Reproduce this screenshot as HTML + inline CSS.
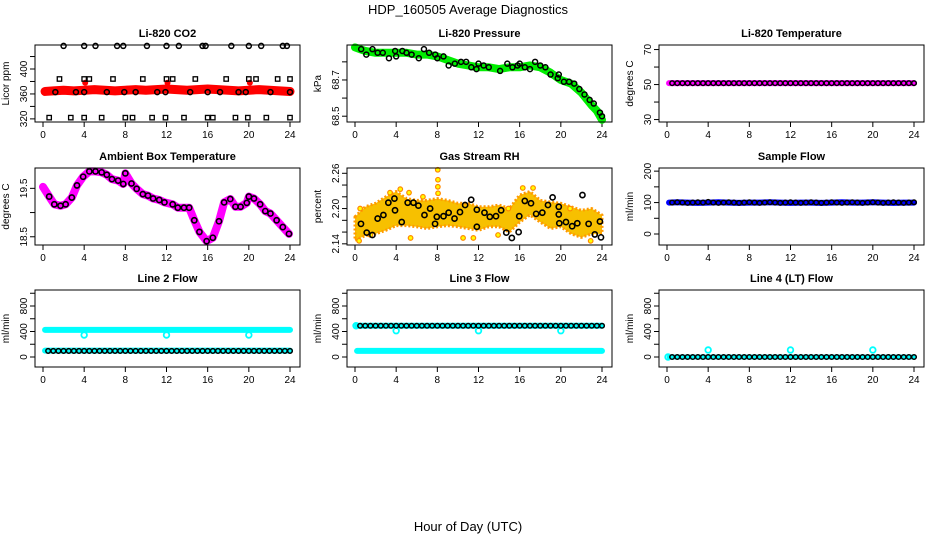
<!DOCTYPE html>
<html><head><meta charset="utf-8">
<style>
html,body{margin:0;padding:0;background:#fff;}
svg{display:block;font-family:"Liberation Sans",sans-serif;}
</style></head>
<body>
<svg id="chart" width="936" height="540" viewBox="0 0 936 540" xmlns="http://www.w3.org/2000/svg">
<rect x="0" y="0" width="936" height="540" fill="#fff"/>
<text x="468" y="14" font-size="13" text-anchor="middle">HDP_160505  Average Diagnostics</text>
<text x="468" y="531" font-size="13" text-anchor="middle">Hour of Day (UTC)</text>
</svg>
<script>
// ---- shared categories ----
const xTicks = [0,4,8,12,16,20,24];
const H48 = [0.5,1,1.5,2,2.5,3,3.5,4,4.5,5,5.5,6,6.5,7,7.5,8,8.5,9,9.5,10,10.5,11,11.5,12,12.5,13,13.5,14,14.5,15,15.5,16,16.5,17,17.5,18,18.5,19,19.5,20,20.5,21,21.5,22,22.5,23,23.5,24];
const H25 = [0,1,2,3,4,5,6,7,8,9,10,11,12,13,14,15,16,17,18,19,20,21,22,23,24];
const bandHours = [0.2,1,2,3,4,5,6,7,8,9,10,11,12,13,14,15,16,17,18,19,20,21,22,23,24];

// ---- Li-820 CO2 ----
const co2Band = [364,365,366,365,366,367,366,365,366,367,366,367,368,367,366,367,368,367,366,365,366,367,366,365,364];
const co2HighH = [2,4,5.1,7.2,7.8,10.1,12,13.2,15.5,15.8,18.3,20,21.2,23.3,23.7];
const co2HighV = [437,437,437,437,437,437,437,437,437,437,437,437,437,437,437];
const co2MidH = [1.2,3.2,4,6.2,7.9,9,11.1,11.9,14.3,16,17.2,19,19.7,22.1,24];
const co2MidV = [363,363,363,363,363,363,363,363,363,363,363,363,363,363,363];
const co2SqH = [1.6,4,4.5,6.8,9.7,12,12.6,14.8,17.8,20,20.7,22.8,24];
const co2SqV = [384,384,384,384,384,384,384,384,384,384,384,384,384];
const co2LowH = [0.6,2.7,4,5.7,8,8.7,10.6,11.9,13.7,16,16.5,18.7,19.9,21.7,24];
const co2LowV = [322,322,322,322,322,322,322,322,322,322,322,322,322,322,322];
const co2RedH = [4.1,12.1,20.1];
const co2RedV = [378,378,378];

// ---- Li-820 Pressure ----
const presH = [0,0.5,1,2,3,4,5,6,7,8,9,10,11,12,13,14,15,16,17,18,19,20,21,22,23,23.5,24];
const presV = [68.88,68.87,68.86,68.85,68.85,68.85,68.85,68.84,68.84,68.83,68.81,68.79,68.78,68.77,68.77,68.76,68.77,68.77,68.78,68.77,68.74,68.70,68.68,68.63,68.56,68.53,68.48];
const presCH = [0.6,1.1,1.7,2.2,2.7,3.3,3.9,4,4.6,5,5.5,6.2,6.7,7.2,7.8,8,8.6,9.1,9.7,10.3,10.8,11.3,11.8,12,12.5,13,14.1,14.8,15.3,15.8,16,16.5,17,17.5,18,18.5,19,19.7,19.8,20.3,20.8,21.3,21.8,22.3,22.8,23.2,23.8,24];
const presCV = [68.87,68.84,68.87,68.85,68.85,68.82,68.86,68.83,68.86,68.85,68.84,68.82,68.87,68.85,68.84,68.82,68.83,68.78,68.79,68.80,68.80,68.77,68.76,68.79,68.78,68.77,68.75,68.79,68.77,68.78,68.79,68.77,68.76,68.80,68.78,68.77,68.73,68.71,68.73,68.69,68.69,68.68,68.65,68.62,68.59,68.57,68.52,68.50];

// ---- Li-820 Temperature ----
const tempBand = [50.8,50.8,50.8,50.8,50.8,50.8,50.8,50.8,50.8,50.8,50.8,50.8,50.8,50.8,50.8,50.8,50.8,50.8,50.8,50.8,50.8,50.8,50.8,50.8,50.8];
const tempV = [50.8,50.8,50.8,50.8,50.8,50.8,50.8,50.8,50.8,50.8,50.8,50.8,50.8,50.8,50.8,50.8,50.8,50.8,50.8,50.8,50.8,50.8,50.8,50.8,50.8,50.8,50.8,50.8,50.8,50.8,50.8,50.8,50.8,50.8,50.8,50.8,50.8,50.8,50.8,50.8,50.8,50.8,50.8,50.8,50.8,50.8,50.8,50.8];

// ---- Ambient Box Temperature ----
const ambH = [0,0.6,1.1,1.7,2.2,2.8,3.3,3.9,4.5,5.1,5.7,6.2,6.7,7.3,7.8,8.0,8.6,9.1,9.7,10.2,10.7,11.3,11.8,12.6,13.1,13.7,14.2,14.7,15.2,15.9,16.5,17.1,17.6,18.2,18.7,19.2,19.8,20.0,20.5,21.1,21.6,22.1,22.7,23.3,23.9];
const ambV = [19.53,19.33,19.17,19.14,19.17,19.31,19.56,19.74,19.85,19.85,19.83,19.78,19.69,19.66,19.59,19.81,19.6,19.49,19.38,19.35,19.29,19.26,19.21,19.17,19.1,19.1,19.1,18.84,18.6,18.41,18.48,18.82,19.21,19.28,19.12,19.12,19.2,19.33,19.29,19.17,19.03,18.98,18.84,18.7,18.56];

// ---- Gas Stream RH ----
const rhUpper = [2.186,2.203,2.209,2.22,2.229,2.217,2.214,2.214,2.217,2.214,2.209,2.209,2.203,2.203,2.206,2.2,2.223,2.229,2.214,2.211,2.209,2.203,2.197,2.2,2.189];
const rhLower = [2.146,2.154,2.157,2.163,2.171,2.171,2.169,2.166,2.169,2.171,2.169,2.166,2.163,2.169,2.169,2.16,2.177,2.189,2.177,2.166,2.169,2.157,2.151,2.157,2.157];
const rhOutH = [8.04,8.06,8.05,8.07,3.4,4.4,5.25,0.4,1.5,5.4,10.5,11.5,14.9,16.3,17.3,20.9,22.9,0.5,6.6,13.9];
const rhOutV = [2.266,2.249,2.237,2.226,2.227,2.233,2.227,2.145,2.155,2.15,2.15,2.15,2.2,2.235,2.235,2.2,2.145,2.2,2.22,2.155];
const rhCH = [0.58,1.14,1.69,2.2,2.76,3.24,3.83,3.89,4.54,5.12,5.68,6.16,6.75,7.3,7.78,7.95,8.6,9.1,9.67,10.2,10.7,11.29,11.84,11.84,12.58,13.1,13.7,14.2,14.7,15.24,15.9,15.96,16.5,17.1,17.6,18.2,18.75,19.2,19.8,19.8,19.85,20.5,21.1,21.6,22.1,22.7,23.3,23.8,23.9];
const rhCV = [2.174,2.159,2.155,2.183,2.189,2.21,2.217,2.197,2.177,2.21,2.21,2.205,2.189,2.2,2.174,2.186,2.187,2.193,2.183,2.194,2.206,2.215,2.198,2.169,2.193,2.186,2.187,2.197,2.159,2.15,2.16,2.187,2.213,2.209,2.191,2.193,2.206,2.219,2.203,2.19,2.175,2.177,2.17,2.175,2.223,2.174,2.156,2.178,2.151];

// ---- Sample Flow ----
const sfBand = [100,101,100,99,100,101,100,99,100,100,101,100,99,100,100,99,100,101,100,100,101,100,99,100,100];
const sfV = [100,101,100,99,100,101,100,102,100,99,100,101,100,99,100,101,100,99,100,101,100,99,100,101,100,99,100,101,100,99,100,101,100,99,100,101,100,99,100,101,100,99,100,101,100,99,100,101];

// ---- Line 2 Flow ----
const l2Upper = [425,425,425,425,425,425,425,425,425,425,425,425,425,425,425,425,425,425,425,425,425,425,425,425,425];
const l2Lower = [100,100,100,100,100,100,100,100,100,100,100,100,100,100,100,100,100,100,100,100,100,100,100,100,100];
const l2OutH = [4,12,20];
const l2OutV = [345,345,345];
const l2V = [95,95,95,95,95,95,95,95,95,95,95,95,95,95,95,95,95,95,95,95,95,95,95,95,95,95,95,95,95,95,95,95,95,95,95,95,95,95,95,95,95,95,95,95,95,95,95,95];

// ---- Line 3 Flow ----
const l3Upper = [490,490,490,490,490,490,490,490,490,490,490,490,490,490,490,490,490,490,490,490,490,490,490,490,490];
const l3Lower = [95,95,95,95,95,95,95,95,95,95,95,95,95,95,95,95,95,95,95,95,95,95,95,95,95];
const l3OutH = [0.1,4,12,20];
const l3OutV = [490,412,412,412];
const l3V = [490,490,490,490,490,490,490,490,490,490,490,490,490,490,490,490,490,490,490,490,490,490,490,490,490,490,490,490,490,490,490,490,490,490,490,490,490,490,490,490,490,490,490,490,490,490,490,490];

// ---- Line 4 Flow ----
const l4Band = [0,0,0,0,0,0,0,0,0,0,0,0,0,0,0,0,0,0,0,0,0,0,0,0,0];
const l4OutH = [0.1,4,12,20];
const l4OutV = [0,110,110,110];
const l4V = [0,0,0,0,0,0,0,0,0,0,0,0,0,0,0,0,0,0,0,0,0,0,0,0,0,0,0,0,0,0,0,0,0,0,0,0,0,0,0,0,0,0,0,0,0,0,0,0];

// ---- axis ticks ----
const co2Ticks=[320,340,360,380,400,420], co2Labels=["320","","360","","400",""];
const presTicks=[68.5,68.6,68.7,68.8], presLabels=["68.5","","68.7",""];
const tempTicks=[30,40,50,60,70], tempLabels=["30","","50","","70"];
const ambTicks=[18.5,19,19.5], ambLabels=["18.5","","19.5"];
const rhTicks=[2.14,2.16,2.18,2.20,2.22,2.24,2.26], rhLabels=["2.14","","","2.20","","","2.26"];
const sfTicks=[0,50,100,150,200], sfLabels=["0","","100","","200"];
const flTicks=[0,200,400,600,800,1000], flLabels=["0","","400","","800",""];

const NS="http://www.w3.org/2000/svg";
const svg=document.getElementById('chart');
function mk(tag,attrs,parent){const e=document.createElementNS(NS,tag);for(const k in attrs)e.setAttribute(k,attrs[k]);(parent||svg).appendChild(e);return e;}

function makePanel(col,row,title,ytitle,ymin,ymax,ticks,labels,name){
  const L=[35,347,659][col], T=[45,168,290][row], W=265, Hh=77;
  const g=mk('g',{});
  
  
  const p={g,L,T,W,Hh,
    X:h=>L+8+h*247/24,
    Y:v=>T+(ymax-v)/(ymax-ymin)*Hh};
  const t=mk('text',{x:L+W/2,y:T-8,'font-size':11,'font-weight':'bold','text-anchor':'middle'},g);
  t.textContent=title;
  
  
  const yt=mk('text',{x:0,y:0,'font-size':10,'text-anchor':'middle',transform:`translate(${L-26},${T+Hh/2}) rotate(-90)`},g);
  yt.textContent=ytitle;
  
  
  // y ticks
  ticks.forEach((v,i)=>{const y=p.Y(v);
    mk('line',{x1:L-5,x2:L,y1:y,y2:y,stroke:'#000','stroke-width':1},g);
    if(labels[i]){const lt=mk('text',{x:0,y:0,'font-size':10,'text-anchor':'middle',transform:`translate(${L-8},${y}) rotate(-90)`},g);lt.textContent=labels[i];
      
      }
  });
  xTicks.forEach(h=>{const x=p.X(h);
    mk('line',{x1:x,x2:x,y1:T+Hh,y2:T+Hh+5,stroke:'#000','stroke-width':1},g);
    const lt=mk('text',{x:x,y:T+Hh+16,'font-size':10,'text-anchor':'middle'},g);lt.textContent=String(h);
    
    
  });
  p.plot=mk('g',{},g);
  mk('rect',{x:L,y:T,width:W,height:Hh,fill:'none',stroke:'#000','stroke-width':1},g);
  return p;
}
function band(p,hs,vs,color,w,name){
  const pl=mk('polyline',{points:hs.map((h,i)=>p.X(h)+','+p.Y(vs[i])).join(' '),fill:'none',stroke:color,'stroke-width':w,'stroke-linejoin':'round','stroke-linecap':'round'},p.plot);
  
  
}
function area(p,hs,up,lo,name){
  const pts=hs.map((h,i)=>p.X(h)+','+p.Y(up[i])).concat(hs.slice().reverse().map((h,j)=>p.X(h)+','+p.Y(lo[hs.length-1-j])));
  const pg=mk('polygon',{points:pts.join(' '),fill:'#f7c000',stroke:'#ff9a00','stroke-width':3,'stroke-dasharray':'2 2','stroke-linejoin':'round'},p.plot);
  
  
}
function pts(p,hs,vs,stroke,fill,r,sw,name,sq){
  hs.forEach((h,i)=>{let c;
    if(sq) c=mk('rect',{x:p.X(h)-r,y:p.Y(vs[i])-r,width:2*r,height:2*r,fill:fill,stroke:stroke,'stroke-width':sw},p.plot);
    else c=mk('circle',{cx:p.X(h),cy:p.Y(vs[i]),r:r,fill:fill,stroke:stroke,'stroke-width':sw},p.plot);
    
    
  });
}

// Panel 1
let p=makePanel(0,0,'Li-820 CO2','Licor ppm',315,438.5,co2Ticks,co2Labels,'co2');
band(p,bandHours,co2Band,'#ff0000',9,'co2-band');
pts(p,co2RedH,co2RedV,'#ff0000','#ff0000',2.5,1,'co2-red-point');
pts(p,co2HighH,co2HighV,'#000','none',2.5,1.5,'co2-high-point');
pts(p,co2MidH,co2MidV,'#000','none',2.5,1.5,'co2-mid-point');
pts(p,co2SqH,co2SqV,'#000','none',2.2,1.3,'co2-square-point',true);
pts(p,co2LowH,co2LowV,'#000','none',2.2,1.3,'co2-low-point',true);

// Panel 2
p=makePanel(1,0,'Li-820 Pressure','kPa',68.468,68.893,presTicks,presLabels,'pressure');
band(p,presH,presV,'#00ee00',8,'pressure-band');
pts(p,presCH,presCV,'#000','none',2.5,1.5,'pressure-point');

// Panel 3
p=makePanel(2,0,'Li-820 Temperature','degrees C',28.6,72.6,tempTicks,tempLabels,'temperature');
band(p,bandHours,tempBand,'#ff00ff',6,'temperature-band');
pts(p,H48,tempV,'#000','none',2.3,1.5,'temperature-point');

// Panel 4
p=makePanel(0,1,'Ambient Box Temperature','degrees C',18.33,19.92,ambTicks,ambLabels,'ambient');
band(p,ambH,ambV,'#ff00ff',8,'ambient-band');
pts(p,ambH.slice(1),ambV.slice(1),'#000','none',2.6,1.6,'ambient-point');

// Panel 5
p=makePanel(1,1,'Gas Stream RH','percent',2.138,2.269,rhTicks,rhLabels,'rh');
area(p,H25,rhUpper,rhLower,'rh-band');
pts(p,rhOutH,rhOutV,'#ff8800','#ffff00',2.3,1.2,'rh-outlier-point');
pts(p,rhCH,rhCV,'#000','none',2.6,1.6,'rh-point');

// Panel 6
p=makePanel(2,1,'Sample Flow','ml/min',-35,210,sfTicks,sfLabels,'sample-flow');
band(p,bandHours,sfBand,'#0000ff',6,'sample-flow-band');
pts(p,H48,sfV,'#000','none',2.3,1.5,'sample-flow-point');

// Panel 7
p=makePanel(0,2,'Line 2 Flow','ml/min',-157,1051,flTicks,flLabels,'line2');
band(p,bandHours,l2Upper,'#00ffff',6,'line2-upper-band');
band(p,bandHours,l2Lower,'#00ffff',6,'line2-lower-band');
pts(p,l2OutH,l2OutV,'#00ffff','none',2.8,1.8,'line2-outlier');
pts(p,H48,l2V,'#000','none',2.3,1.5,'line2-point');

// Panel 8
p=makePanel(1,2,'Line 3 Flow','ml/min',-157,1051,flTicks,flLabels,'line3');
band(p,bandHours,l3Upper,'#00ffff',6,'line3-upper-band');
band(p,bandHours,l3Lower,'#00ffff',6,'line3-lower-band');
pts(p,l3OutH,l3OutV,'#00ffff','none',2.8,1.8,'line3-outlier');
pts(p,H48,l3V,'#000','none',2.3,1.5,'line3-point');

// Panel 9
p=makePanel(2,2,'Line 4 (LT) Flow','ml/min',-157,1051,flTicks,flLabels,'line4');
band(p,bandHours,l4Band,'#00ffff',5,'line4-band');
pts(p,l4OutH,l4OutV,'#00ffff','none',2.8,1.8,'line4-outlier');
pts(p,H48,l4V,'#000','none',2.3,1.5,'line4-point');
</script>
</body></html>
